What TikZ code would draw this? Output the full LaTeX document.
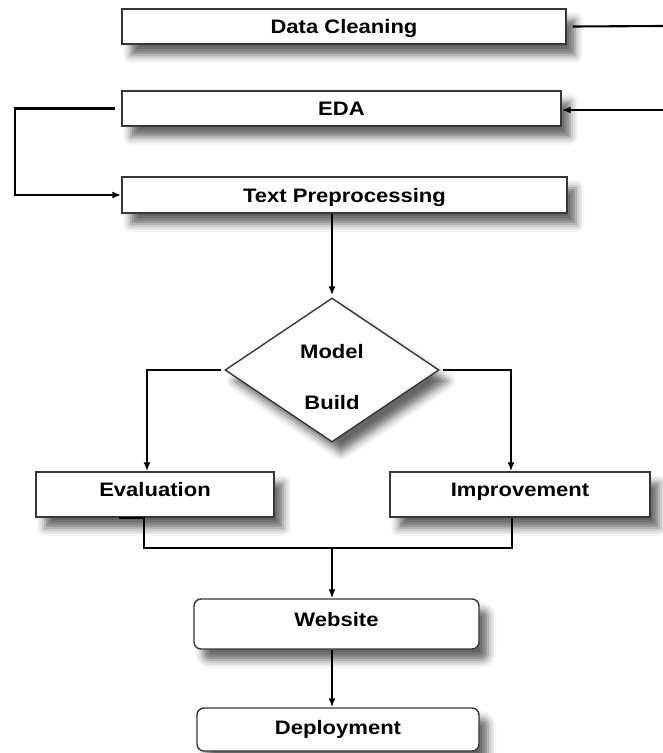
\documentclass[tikz,border=0pt]{standalone}
\usepackage{fontspec}
\setmainfont{Liberation Sans}[FakeStretch=1.13]
\usetikzlibrary{arrows.meta,shapes.geometric,shadows.blur}
\definecolor{figK}{RGB}{55,55,55}

\begin{document}
\begin{tikzpicture}[x=1pt,y=-1pt,>={Latex[length=9pt,width=7pt]},
  every node/.style={font=\fontsize{19.5}{22}\selectfont\bfseries},
  stage/.style={draw=figK,line width=1.4pt,fill=white,inner sep=0pt,text height=14pt,text depth=0pt,
    blur shadow={shadow xshift=9pt,shadow yshift=-11pt,shadow blur radius=8pt,shadow opacity=60}},
  decision/.style={stage,diamond,aspect=1.5,minimum width=214pt,minimum height=144pt,align=center,text height=79pt,text depth=0pt},
  link/.style={line width=2.1pt,black}]
\useasboundingbox (0,0) rectangle (663,753);
\node[stage,minimum width=444pt,minimum height=35pt] (clean) at (344,26.5) {Data Cleaning};
\node[stage,minimum width=439pt,minimum height=35pt] (eda) at (341.5,108.5) {EDA};
\node[stage,minimum width=445pt,minimum height=36pt] (prep) at (344.5,195) {Text Preprocessing};
\node[decision] (model) at (332,370) {Model\\[29pt]Build};
\node[stage,minimum width=238pt,minimum height=45pt,text depth=10pt] (eval) at (155,494.5) {Evaluation};
\node[stage,minimum width=260pt,minimum height=45pt,text depth=10pt] (impr) at (520,494.5) {Improvement};
\node[stage,rounded corners=7pt,minimum width=285pt,minimum height=50pt,text depth=10pt] (web) at (336.5,624) {Website};
\node[stage,rounded corners=7pt,minimum width=282pt,minimum height=43pt,text depth=5pt] (deploy) at (338,729.5) {Deployment};
% loose ends at the right border
\coordinate (cleanout) at (663,26);
\coordinate (edain) at (663,110);
\coordinate (merge) at (332,547);
\draw[link] ([xshift=6pt]clean.east) -- (cleanout);
\draw[link,->] (edain) -- (edain -| eda.east);
\draw[link,->] ([xshift=-6pt]eda.west) -- ++(-100,0) |- (prep.west);
\draw[link,->] (prep.south -| model.north) -- ([yshift=2pt]model.north);
\draw[link,->] ([xshift=-3pt]model.west) -| ([xshift=-8pt]eval.north);
\draw[link,->] ([xshift=3pt]model.east) -| ([xshift=-9pt]impr.north);
\draw[link] ([xshift=-36pt]eval.south) -- ++(25,0) -- ++(0,30) -| ([xshift=-8pt]impr.south);
\draw[link,->] (merge) -- (merge |- web.north);
\draw[link,->] (web.south -| merge) -- (deploy.north -| merge);
\end{tikzpicture}
\end{document}
